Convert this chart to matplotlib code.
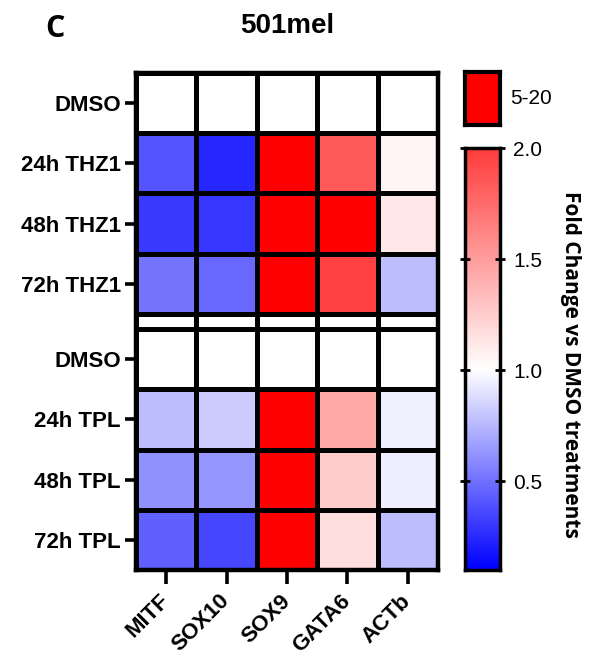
import numpy as np
import matplotlib
matplotlib.use("Agg")
import matplotlib.pyplot as plt
from matplotlib.colors import LinearSegmentedColormap, TwoSlopeNorm

plt.rcParams['font.family'] = ['Liberation Sans', 'DejaVu Sans']

genes = ["MITF", "SOX10", "SOX9", "GATA6", "ACTb"]
thz1_rows = ["DMSO", "24h THZ1", "48h THZ1", "72h THZ1"]
tpl_rows = ["DMSO", "24h TPL", "48h TPL", "72h TPL"]

thz1_dmso = [1.0, 1.0, 1.0, 1.0, 1.0]
thz1_24h = [0.40, 0.24, 8.5, 1.85, 1.05]
thz1_48h = [0.31, 0.29, 12.3, 5.6, 1.12]
thz1_72h = [0.51, 0.47, 15.1, 1.97, 0.77]

tpl_dmso = [1.0, 1.0, 1.0, 1.0, 1.0]
tpl_24h = [0.77, 0.82, 6.2, 1.44, 0.95]
tpl_48h = [0.61, 0.63, 9.4, 1.26, 0.94]
tpl_72h = [0.44, 0.35, 11.0, 1.17, 0.77]

cbar_ticks = [0.5, 1.0, 1.5, 2.0]

W, H = 597, 659
fig = plt.figure(figsize=(W / 100, H / 100), dpi=100)

cmap = LinearSegmentedColormap.from_list(
    "bwr_custom", [(0, 0, 1), (1, 1, 1), (1, 0.235, 0.235)])
cmap.set_over((1, 0, 0))
cmap.set_bad((1, 1, 1))
norm = TwoSlopeNorm(vmin=0.1, vcenter=1.0, vmax=2.0)

gap = 0.25
data = np.ma.masked_invalid(np.array(
    [thz1_dmso, thz1_24h, thz1_48h, thz1_72h,
     [np.nan] * 5,
     tpl_dmso, tpl_24h, tpl_48h, tpl_72h], dtype=float))
y_edges = np.array([0, 1, 2, 3, 4, 4 + gap, 5 + gap, 6 + gap, 7 + gap, 8 + gap])
x_edges = np.arange(len(genes) + 1)

ax = fig.add_axes([136 / W, 1 - 570 / H, 302 / W, 497 / H])
ax.pcolormesh(x_edges, y_edges, data, cmap=cmap, norm=norm,
              edgecolors='black', linewidth=2.2)
ax.set_xlim(0, len(genes))
ax.set_ylim(8 + gap, 0)
for s in ax.spines.values():
    s.set_linewidth(3.2)

row_centers = [0.5, 1.5, 2.5, 3.5, 4.5 + gap, 5.5 + gap, 6.5 + gap, 7.5 + gap]
ax.set_yticks(row_centers)
ax.set_yticklabels(thz1_rows + tpl_rows, fontsize=16, fontweight='bold')
ax.set_xticks(np.arange(len(genes)) + 0.5)
ax.set_xticklabels(genes, fontsize=16, fontweight='bold', rotation=45,
                   ha='right', va='center', rotation_mode='anchor')
ax.tick_params(axis='y', length=8, width=2.6, pad=3)
ax.tick_params(axis='x', length=10, width=2.6, pad=10)

# colorbar
cax = fig.add_axes([465 / W, 1 - 570 / H, 35 / W, 422 / H])
grad = np.linspace(0.1, 2.0, 400).reshape(-1, 1)
cax.imshow(grad, extent=[0, 1, 0.1, 2.0], origin='lower', aspect='auto',
           cmap=cmap, norm=norm)
cax.set_xlim(0, 1)
cax.set_ylim(0.1, 2.0)
cax.set_xticks([])
cax.yaxis.tick_right()
cax.set_yticks(cbar_ticks)
cax.set_yticklabels([f"{t:.1f}" for t in cbar_ticks], fontsize=15)
cax.tick_params(axis='y', which='both', left=True, right=True, direction='inout',
                length=7, width=2, pad=6)
for s in cax.spines.values():
    s.set_linewidth(2.5)

# 5-20 box
bax = fig.add_axes([465 / W, 1 - 125 / H, 35 / W, 53 / H])
bax.set_facecolor((1, 0, 0))
bax.set_xticks([])
bax.set_yticks([])
for s in bax.spines.values():
    s.set_linewidth(3)
fig.text(510 / W, 1 - 99 / H, "5-20", fontsize=15, va='center', ha='left')

fig.text(571 / W, 1 - 364 / H, "Fold Change vs DMSO treatments", rotation=270,
         fontsize=15, fontweight='bold', va='center', ha='center',
         family=['Open Sans', 'DejaVu Sans'])

fig.text(287 / W, 1 - 33 / H, "501mel", fontsize=20, fontweight='bold',
         ha='center', va='baseline')
fig.text(55 / W, 1 - 37 / H, "C", fontsize=22, fontweight='bold',
         ha='center', va='baseline', family=['Open Sans', 'DejaVu Sans'])

fig.savefig("out.png", dpi=100)
